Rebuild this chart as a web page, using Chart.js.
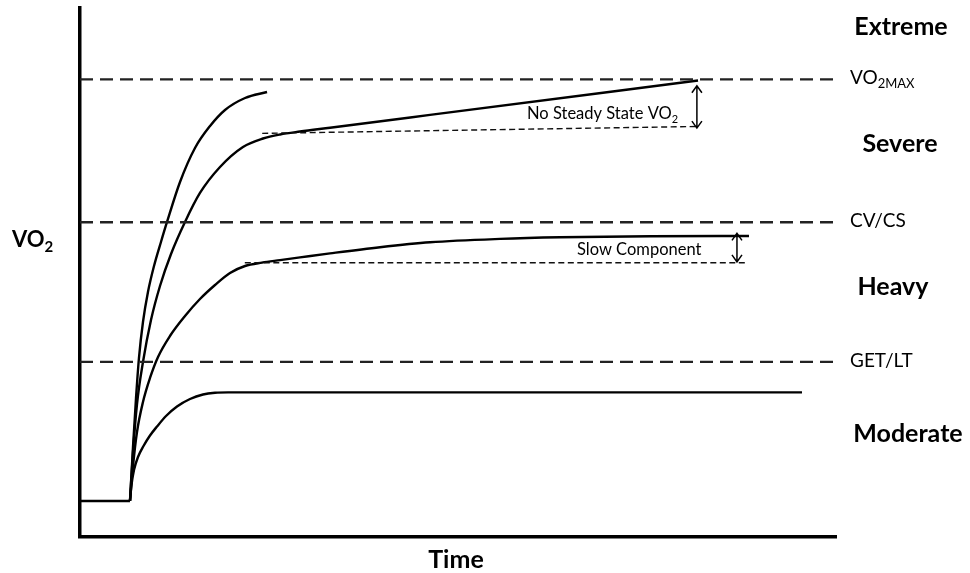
<!DOCTYPE html>
<html>
<head>
<meta charset="utf-8">
<script src="https://cdn.jsdelivr.net/npm/chart.js@4/dist/chart.umd.min.js"></script>
<style>
  html, body { margin: 0; padding: 0; background: #fff; }
  canvas { display: block; }
</style>
</head>
<body>
<canvas id="chart" width="970" height="573"></canvas>
<script>
// VO2 response to constant-load exercise in the four intensity domains.
// Time and VO2 are on arbitrary 0-100 scales; each point is [time, VO2].

const restVO2 = [[0, 6.81], [6.61, 6.81]];

const moderate = [
  [6.61, 6.81], [6.81, 9.83], [7.14, 12.67], [7.67, 15.12], [8.4, 17.2],
  [9.26, 19.19], [10.19, 20.89], [11.38, 22.87], [12.83, 24.67], [14.55, 26.09],
  [16.27, 26.94], [17.86, 27.26], [19.58, 27.33], [95.5, 27.33]
];

const heavy = [
  [6.61, 6.81], [7.01, 13.42], [7.54, 19.85], [8.33, 25.52], [9.26, 30.06],
  [10.32, 34.03], [11.9, 38.0], [13.89, 41.78], [15.87, 44.99], [17.86, 47.64],
  [19.84, 49.91], [21.83, 51.23], [24.07, 51.87], [26.46, 52.34], [29.1, 52.85],
  [33.07, 53.61], [39.68, 54.78], [46.3, 55.71], [55.56, 56.35], [63.49, 56.65],
  [75.4, 56.84], [88.49, 56.9]
];

const severe = [
  [6.61, 6.81], [7.01, 16.07], [7.54, 25.14], [8.33, 33.08], [9.39, 41.02],
  [10.58, 47.45], [12.04, 53.5], [13.89, 59.55], [15.87, 65.03], [18.52, 69.94],
  [21.56, 73.72], [24.21, 75.33], [26.46, 76.09], [29.1, 76.65], [33.07, 77.37],
  [46.3, 79.79], [81.75, 86.29]
];

const extreme = [
  [6.61, 6.81], [7.01, 17.01], [7.41, 26.28], [7.8, 33.84], [8.33, 40.64],
  [8.99, 46.31], [9.79, 51.23], [10.71, 55.77], [11.51, 59.55], [13.23, 67.11],
  [15.21, 73.53], [17.2, 77.69], [19.18, 80.72], [21.83, 82.99], [24.74, 84.12]
];

// Threshold VO2 levels: VO2max, critical velocity / critical speed, gas exchange / lactate threshold
const thresholdVO2 = [86.5, 59.5, 33.1];
const thresholdNames = [['VO', '2MAX'], ['CV/CS', ''], ['GET/LT', '']];
const thresholdEndTime = 99.9;

// Reference levels the slow rise is measured from
const severeBase = [[24.1, 76.3], [81.6, 77.6]];
const heavyBase = [[21.8, 51.85], [88.0, 51.85]];

// Double-headed arrows: [time, upper VO2, lower VO2]
const riseArrows = [[81.6, 85.3, 77.3], [86.9, 57.4, 52.0]];

const domainNames = ['Extreme', 'Severe', 'Heavy', 'Moderate'];

const toXY = pts => pts.map(([x, y]) => ({ x, y }));

const curve = (data) => ({
  data: toXY(data),
  borderColor: '#000',
  borderWidth: 2.4,
  pointRadius: 0,
  cubicInterpolationMode: 'monotone',
  fill: false
});

const dashed = (data, width, dash, color) => ({
  data: toXY(data),
  borderColor: color,
  borderWidth: width,
  borderDash: dash,
  pointRadius: 0,
  tension: 0,
  fill: false
});

const datasets = [
  ...thresholdVO2.map(v => dashed([[0, v], [thresholdEndTime, v]], 2.4, [13, 7], '#222')),
  dashed(severeBase, 1.4, [6, 3.5], '#111'),
  dashed(heavyBase, 1.4, [6, 3.5], '#111'),
  curve(restVO2),
  curve(moderate),
  curve(heavy),
  curve(severe),
  curve(extreme)
];

function drawWithSub(ctx, main, sub, x, y, size, subSize, drop, weight) {
  ctx.font = `${weight} ${size}px Lato`;
  ctx.fillText(main, x, y);
  const w = ctx.measureText(main).width;
  if (sub) {
    ctx.font = `${weight} ${subSize}px Lato`;
    ctx.fillText(sub, x + w, y + drop);
    return w + ctx.measureText(sub).width;
  }
  return w;
}

const annotations = {
  id: 'annotations',
  afterDatasetsDraw(chart) {
    const { ctx, chartArea, scales: { x, y } } = chart;
    ctx.save();
    ctx.fillStyle = '#000';
    ctx.strokeStyle = '#000';
    ctx.textBaseline = 'alphabetic';
    ctx.textAlign = 'left';

    // arrows showing the rise above each reference level
    ctx.lineWidth = 1.5;
    riseArrows.forEach(([t, hi, lo]) => {
      const px = x.getPixelForValue(t);
      const y1 = y.getPixelForValue(hi);
      const y2 = y.getPixelForValue(lo);
      ctx.beginPath();
      ctx.moveTo(px, y1); ctx.lineTo(px, y2);
      ctx.moveTo(px - 5, y1 + 7); ctx.lineTo(px, y1); ctx.lineTo(px + 5, y1 + 7);
      ctx.moveTo(px - 5, y2 - 7); ctx.lineTo(px, y2); ctx.lineTo(px + 5, y2 - 7);
      ctx.stroke();
    });

    // threshold names at the right end of each dashed line
    thresholdVO2.forEach((v, i) => {
      const [main, sub] = thresholdNames[i];
      drawWithSub(ctx, main, sub, chartArea.right + 14, y.getPixelForValue(v) + 5, 19, 13, 4, 'normal');
    });

    // intensity domain names
    const domainPos = [[901, 35], [900, 152], [893, 295], [908, 442]];
    ctx.textAlign = 'center';
    ctx.font = 'bold 25px Lato';
    domainNames.forEach((name, i) => ctx.fillText(name, domainPos[i][0], domainPos[i][1]));

    // axis titles
    ctx.fillText('Time', 456, 568);
    ctx.textAlign = 'left';
    drawWithSub(ctx, 'VO', '2', 12, 247, 22, 15, 5, 'bold');

    // annotation text
    drawWithSub(ctx, 'No Steady State VO', '2', 527, 119, 16.5, 11, 4, 'normal');
    ctx.font = 'normal 16.5px Lato';
    ctx.fillText('Slow Component', 577, 255);
    ctx.restore();
  }
};

new Chart(document.getElementById('chart'), {
  type: 'line',
  data: { datasets },
  options: {
    responsive: false,
    animation: false,
    devicePixelRatio: 1,
    layout: { autoPadding: false, padding: { left: 80, right: 134, top: 8, bottom: 36 } },
    plugins: { legend: { display: false }, tooltip: { enabled: false } },
    scales: {
      x: {
        type: 'linear', min: 0, max: 100,
        ticks: { display: false },
        grid: { display: false, drawTicks: false },
        border: { display: true, color: '#000', width: 3.5 }
      },
      y: {
        type: 'linear', min: 0, max: 100,
        ticks: { display: false },
        grid: { display: false, drawTicks: false },
        border: { display: true, color: '#000', width: 3.5 }
      }
    }
  },
  plugins: [annotations]
});
</script>
</body>
</html>
